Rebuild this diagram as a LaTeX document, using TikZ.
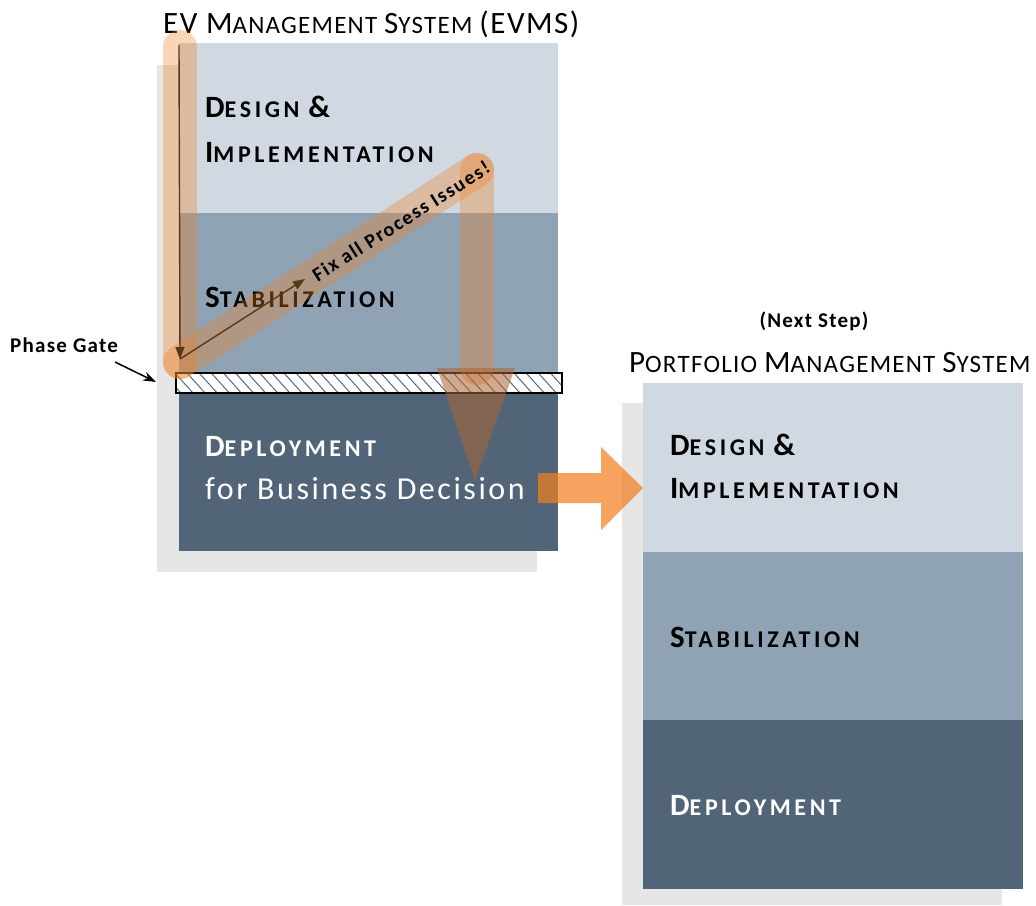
\documentclass[tikz,border=0pt]{standalone}
\usepackage{fontspec}
\setmainfont{Carlito}
\usetikzlibrary{patterns.meta,arrows.meta}

\definecolor{layerlight}{RGB}{208,217,225}
\definecolor{layermid}{RGB}{143,163,181}
\definecolor{layerdark}{RGB}{82,100,119}
\definecolor{shadowgray}{RGB}{230,230,230}
\definecolor{flow}{RGB}{241,128,32}
\definecolor{flowhead}{RGB}{170,100,50}
\definecolor{thinbrown}{RGB}{90,55,25}
\definecolor{hatchline}{RGB}{90,105,120}

% fake small caps: first argument at full size, second at reduced size
\newcommand\scbig{31}
\newcommand\scsmall{24}
\newcommand\scw[2]{{\fontsize{\scbig}{\scbig}\selectfont #1}{\fontsize{\scsmall}{\scsmall}\selectfont #2}}

\begin{document}
\begin{tikzpicture}[x=1pt,y=-1pt,
  layer/.style={rectangle, inner sep=0pt, outer sep=0pt, anchor=north west},
  caption/.style={inner sep=0pt, anchor=base west,
    font=\bfseries\addfontfeature{LetterSpace=15}\renewcommand\scbig{31}\renewcommand\scsmall{24}\fontsize{24}{24}\selectfont},
  heading/.style={inner sep=0pt, anchor=base west,
    font=\addfontfeature{LetterSpace=5}\renewcommand\scbig{31}\renewcommand\scsmall{25}\fontsize{25}{25}\selectfont},
  note/.style={inner sep=0pt, font=\bfseries\addfontfeature{LetterSpace=6}\fontsize{21}{21}\selectfont},
  band/.style={draw=flow, draw opacity=0.33, line width=34pt, line cap=round},
  thinarrow/.style={draw=thinbrown, line width=1.4pt, -{Triangle[length=12pt,width=9pt]}}
]
\useasboundingbox (0,0) rectangle (1036,905);

% drop shadows
\node[layer, fill=shadowgray, minimum width=380pt, minimum height=507pt] (evms-shadow) at (157,65) {};
\node[layer, fill=shadowgray, minimum width=380pt, minimum height=502pt] (pms-shadow) at (622,403) {};

% EVMS phases
\node[layer, fill=layerlight, minimum width=379pt, minimum height=170pt] (evms-design) at (179,43) {};
\node[layer, fill=layermid, minimum width=379pt, minimum height=160pt] (evms-stab) at (179,213) {};
\node[layer, fill=layerdark, minimum width=379pt, minimum height=158pt] (evms-deploy) at (179,393) {};

% phase gate
\node[layer, draw=black, line width=1.3pt, preaction={fill=white},
      pattern={Lines[angle=-48,distance=9pt,line width=1pt]}, pattern color=hatchline,
      minimum width=386pt, minimum height=20pt] (gate) at (176,373) {};

% PMS phases
\node[layer, fill=layerlight, minimum width=380pt, minimum height=169pt] (pms-design) at (643,383) {};
\node[layer, fill=layermid, minimum width=380pt, minimum height=168pt] (pms-stab) at (643,552) {};
\node[layer, fill=layerdark, minimum width=380pt, minimum height=169pt] (pms-deploy) at (643,720) {};

% titles
\node[heading] (evms-title) at (163,33) {\scw{EV M}{ANAGEMENT} \scw{S}{YSTEM} \scw{(EVMS)}{}};
\node[note, anchor=base] (next-step) at (814,327) {(Next Step)};
\node[heading] (pms-title) at (629,372) {\scw{P}{ORTFOLIO} \scw{M}{ANAGEMENT} \scw{S}{YSTEM}};

% phase captions
\node[caption] (evms-design-a) at (205,117) {\scw{D}{ESIGN} \scw{\&}{}};
\node[caption] (evms-design-b) at (205,162) {\scw{I}{MPLEMENTATION}};
\node[caption] (evms-stab-a) at (205,307) {\scw{S}{TABILIZATION}};
\node[caption, text=white] (evms-deploy-a) at (205,456) {\scw{D}{EPLOYMENT}};
\node[inner sep=0pt, anchor=base west, text=white,
      font=\addfontfeature{LetterSpace=8}\fontsize{32}{32}\selectfont] (evms-deploy-b) at (205,499) {for Business Decision};

\node[caption] (pms-design-a) at (670,455) {\scw{D}{ESIGN} \scw{\&}{}};
\node[caption] (pms-design-b) at (670,498) {\scw{I}{MPLEMENTATION}};
\node[caption] (pms-stab-a) at (670,647) {\scw{S}{TABILIZATION}};
\node[caption, text=white] (pms-deploy-a) at (670,815) {\scw{D}{EPLOYMENT}};

% rework loop
\coordinate (loop-top) at (180,47);
\coordinate (loop-corner) at (180,362);
\coordinate (loop-peak) at (477,170);
\coordinate (loop-down) at (477,368);
\draw[band] (loop-top) -- (loop-corner);
\draw[band] (loop-corner) -- (loop-peak);
\draw[band] (loop-peak) -- (loop-down);
\fill[flowhead, opacity=0.55] (437,368) -- (515,368) -- (475,481) -- cycle;

\coordinate (thin-top) at (179,45);
\coordinate (thin-corner) at (180,359);
\coordinate (thin-end) at (305,279);
\draw[thinarrow] (thin-top) -- (thin-corner);
\draw[thinarrow] (thin-corner) -- (thin-end);

\node[inner sep=0pt, rotate=32.5, font=\bfseries\addfontfeature{LetterSpace=8}\fontsize{20}{20}\selectfont] (fix-note) at (401,221) {Fix all Process Issues!};

% hand-over to the next system
\fill[flow, opacity=0.72] (538,473) -- (601,473) -- (601,447) -- (643,488) -- (601,530) -- (601,503) -- (538,503) -- cycle;

% phase gate label
\node[note, anchor=base west] (gate-note) at (10,352) {Phase Gate};
\coordinate (gate-tail) at (115,362);
\coordinate (gate-tip) at (156,382);
\draw[line width=1.5pt, -{Stealth[length=13pt,width=9pt]}] (gate-tail) -- (gate-tip);
\end{tikzpicture}
\end{document}
